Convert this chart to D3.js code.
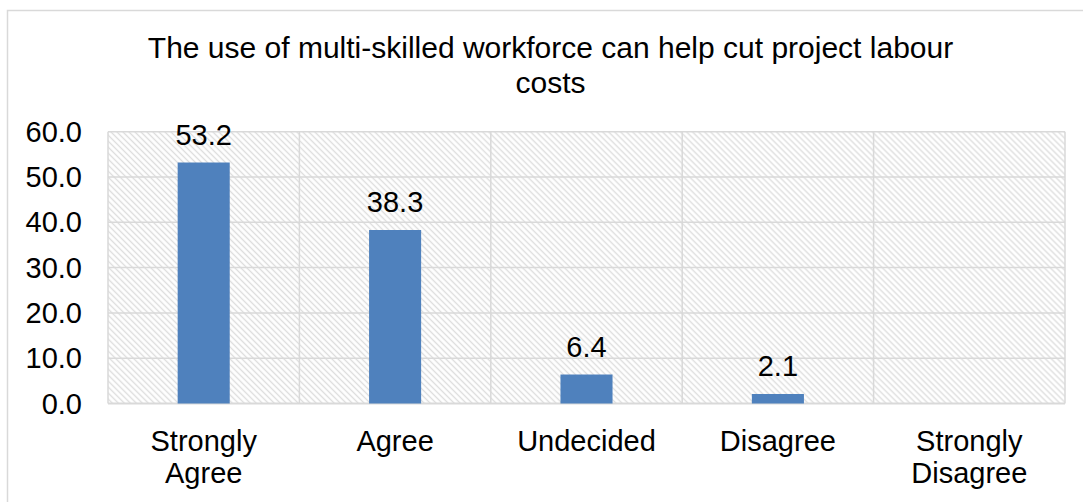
<!DOCTYPE html>
<html>
<head>
<meta charset="utf-8">
<script src="https://cdn.jsdelivr.net/npm/d3@7"></script>
<style>
  html, body { margin: 0; padding: 0; background: #ffffff; }
  svg text { font-family: "Liberation Sans", Arial, sans-serif; fill: #000; }
</style>
</head>
<body>
<svg id="chart" width="1083" height="502"></svg>
<script>
// Survey responses (%)
const categories = ["Strongly Agree", "Agree", "Undecided", "Disagree", "Strongly Disagree"];
const categoryLines = [["Strongly", "Agree"], ["Agree"], ["Undecided"], ["Disagree"], ["Strongly", "Disagree"]];
const values = [53.2, 38.3, 6.4, 2.1, null];
const yTicks = [0, 10, 20, 30, 40, 50, 60];
const titleLines = ["The use of multi-skilled workforce can help cut project labour", "costs"];

const svg = d3.select("#chart");
const W = 1083, H = 502;
const plot = { left: 108, right: 1065, top: 131.7, bottom: 403.5 };
const gridColor = "#d9d9d9";
const fontSize = 29;

// Outer chart frame (extends past the visible edges)
svg.append("rect")
  .attr("x", 7.5).attr("y", 10.5)
  .attr("width", W + 20).attr("height", H + 20)
  .attr("fill", "#fff").attr("stroke", gridColor).attr("stroke-width", 1.5);

// Diagonal hatch for the plot area background
const defs = svg.append("defs");
const pat = defs.append("pattern")
  .attr("id", "hatch")
  .attr("patternUnits", "userSpaceOnUse")
  .attr("width", 4.24).attr("height", 4.24)
  .attr("patternTransform", "rotate(-45)");
pat.append("rect").attr("width", 4.24).attr("height", 4.24).attr("fill", "#fff");
pat.append("line")
  .attr("x1", 2.12).attr("y1", 0).attr("x2", 2.12).attr("y2", 4.24)
  .attr("stroke", "#dedede").attr("stroke-width", 1.4);

const x = d3.scaleBand().domain(categories).range([plot.left, plot.right]).padding(0);
const y = d3.scaleLinear().domain([0, 60]).range([plot.bottom, plot.top]);

svg.append("rect")
  .attr("x", plot.left).attr("y", plot.top)
  .attr("width", plot.right - plot.left).attr("height", plot.bottom - plot.top)
  .attr("fill", "url(#hatch)");

// Horizontal gridlines
svg.append("g").selectAll("line").data(yTicks).join("line")
  .attr("x1", plot.left).attr("x2", plot.right)
  .attr("y1", d => y(d)).attr("y2", d => y(d))
  .attr("stroke", gridColor).attr("stroke-width", d => d === 0 ? 2.2 : 1.5);

// Vertical gridlines at category boundaries
const bounds = categories.map(c => x(c)).concat([plot.right]);
svg.append("g").selectAll("line").data(bounds).join("line")
  .attr("x1", d => d).attr("x2", d => d)
  .attr("y1", plot.top).attr("y2", plot.bottom)
  .attr("stroke", gridColor).attr("stroke-width", 1.5);

// Y axis labels
svg.append("g").selectAll("text").data(yTicks).join("text")
  .attr("x", 82).attr("y", d => y(d) + 10)
  .attr("text-anchor", "end")
  .attr("font-size", fontSize)
  .text(d => d3.format(".1f")(d));

// Bars
const barW = x.bandwidth() * 0.272;
const data = categories.map((c, i) => ({ c, v: values[i] })).filter(d => d.v != null);
svg.append("g").selectAll("rect").data(data).join("rect")
  .attr("x", d => x(d.c) + x.bandwidth() / 2 - barW / 2)
  .attr("y", d => y(d.v))
  .attr("width", barW)
  .attr("height", d => y(0) - y(d.v))
  .attr("fill", "#4f81bd");

// Value labels
svg.append("g").selectAll("text").data(data).join("text")
  .attr("x", d => x(d.c) + x.bandwidth() / 2)
  .attr("y", d => y(d.v) - 18)
  .attr("text-anchor", "middle")
  .attr("font-size", fontSize)
  .text(d => d3.format(".1f")(d.v));

// Category labels
const catG = svg.append("g");
categories.forEach((c, i) => {
  const t = catG.append("text")
    .attr("x", x(c) + x.bandwidth() / 2)
    .attr("y", 451)
    .attr("text-anchor", "middle")
    .attr("font-size", fontSize);
  categoryLines[i].forEach((ln, j) => {
    t.append("tspan")
      .attr("x", x(c) + x.bandwidth() / 2)
      .attr("dy", j === 0 ? 0 : 32)
      .text(ln);
  });
});

// Title
const title = svg.append("text")
  .attr("x", 550.5).attr("y", 58)
  .attr("text-anchor", "middle")
  .attr("font-size", 30);
titleLines.forEach((ln, j) => {
  title.append("tspan").attr("x", 550.5).attr("dy", j === 0 ? 0 : 35).text(ln);
});
</script>
</body>
</html>
